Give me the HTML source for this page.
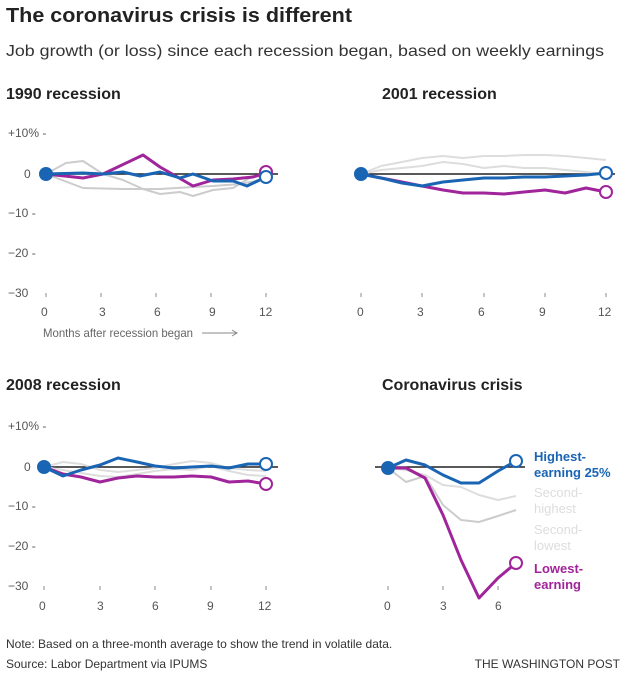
<!DOCTYPE html>
<html><head><meta charset="utf-8"><style>
body{margin:0;background:#fff;width:630px;height:676px;overflow:hidden;font-family:"Liberation Sans",sans-serif}
</style></head><body>
<svg width="630" height="676" xmlns="http://www.w3.org/2000/svg" font-family="Liberation Sans, sans-serif">
<text x="6" y="22" font-size="20" font-weight="bold" fill="#222" textLength="346" lengthAdjust="spacingAndGlyphs">The coronavirus crisis is different</text>
<text x="6" y="56" font-size="16" fill="#333" textLength="598" lengthAdjust="spacingAndGlyphs">Job growth (or loss) since each recession began, based on weekly earnings</text>
<g font-size="16" font-weight="bold" fill="#222">
<text x="6" y="99">1990 recession</text><text x="382" y="99">2001 recession</text>
<text x="6" y="390">2008 recession</text><text x="382" y="390">Coronavirus crisis</text></g>
<g font-size="12" fill="#555">
<text x="8" y="137">+10% -</text><text x="24" y="178">0</text><text x="8" y="217">−10 -</text><text x="8" y="257">−20 -</text><text x="8" y="297">−30</text>
<text x="41" y="316">0</text><text x="99" y="316">3</text><text x="154" y="316">6</text><text x="209" y="316">9</text><text x="259" y="316">12</text>
<text x="43" y="337" fill="#666" textLength="150" lengthAdjust="spacingAndGlyphs">Months after recession began</text>
<text x="357" y="316">0</text><text x="417" y="316">3</text><text x="478" y="316">6</text><text x="539" y="316">9</text><text x="598" y="316">12</text>
<text x="8" y="430">+10% -</text><text x="24" y="471">0</text><text x="8" y="510">−10 -</text><text x="8" y="550">−20 -</text><text x="8" y="590">−30</text>
<text x="39" y="610">0</text><text x="97" y="610">3</text><text x="152" y="610">6</text><text x="207" y="610">9</text><text x="258" y="610">12</text>
<text x="384" y="610">0</text><text x="440" y="610">3</text><text x="495" y="610">6</text>
</g>
<g stroke="#888" stroke-width="1">
<line x1="202" y1="333" x2="236" y2="333"/><path d="M232,330 L237,333 L232,336" fill="none"/>
<line x1="46" y1="293" x2="46" y2="297"/><line x1="101" y1="293" x2="101" y2="297"/><line x1="156" y1="293" x2="156" y2="297"/><line x1="211" y1="293" x2="211" y2="297"/><line x1="266" y1="293" x2="266" y2="297"/>
<line x1="361" y1="293" x2="361" y2="297"/><line x1="422" y1="293" x2="422" y2="297"/><line x1="484" y1="293" x2="484" y2="297"/><line x1="545" y1="293" x2="545" y2="297"/><line x1="606" y1="293" x2="606" y2="297"/>
<line x1="44" y1="586" x2="44" y2="590"/><line x1="100" y1="586" x2="100" y2="590"/><line x1="155" y1="586" x2="155" y2="590"/><line x1="211" y1="586" x2="211" y2="590"/><line x1="266" y1="586" x2="266" y2="590"/>
<line x1="388" y1="586" x2="388" y2="590"/><line x1="443" y1="586" x2="443" y2="590"/><line x1="498" y1="586" x2="498" y2="590"/>
</g>
<g stroke="#222" stroke-width="1.5">
<line x1="40" y1="174" x2="278" y2="174"/><line x1="355" y1="174" x2="615" y2="174"/>
<line x1="38" y1="467" x2="278" y2="467"/><line x1="375" y1="467" x2="525" y2="467"/>
</g>
<g fill="none" stroke-width="2" stroke-linejoin="round">
<polyline stroke="#ccc" points="46,174 66,163 83,161 103,174 123,180 143,189 160,194 180,192 193,196 213,190 233,188 253,176 266,177"/>
<polyline stroke="#ccc" points="46,174 83,188 123,189 160,189 193,187 213,186 240,184 266,179"/>
<polyline stroke="#a0249a" stroke-width="3" points="46,174 83,178 103,174 143,155 160,167 193,186 213,180 233,179 253,177 266,173"/>
<polyline stroke="#1a64b4" stroke-width="3" points="46,174 83,173 103,174 123,172 140,176 160,172 180,178 193,174 213,181 233,181 247,186 266,177"/>
<polyline stroke="#ddd" points="361,174 381,166 402,162 422,158 443,156 463,158 484,156 504,156 524,155 545,155 565,156 586,158 606,160"/>
<polyline stroke="#ddd" points="361,174 381,170 402,168 422,166 443,162 463,164 484,168 504,166 524,168 545,168 565,170 586,172 606,174"/>
<polyline stroke="#a0249a" stroke-width="3" points="361,174 381,178 402,182 422,186 443,190 463,193 484,193 504,194 524,192 545,190 565,193 586,188 606,192"/>
<polyline stroke="#1a64b4" stroke-width="3" points="361,174 381,178 402,183 422,186 443,182 463,180 484,178 504,178 524,177 545,177 565,176 586,175 606,173"/>
<polyline stroke="#ddd" points="44,467 63,462 81,464 100,470 118,472 137,470 155,468 174,464 192,461 211,463 229,468 248,470 266,471"/>
<polyline stroke="#ddd" points="44,467 63,470 81,473 100,476 118,477 137,474 155,471 174,469 192,470 211,466 229,471 248,475 266,476"/>
<polyline stroke="#a0249a" stroke-width="3" points="44,467 63,474 81,477 100,482 118,478 137,476 155,477 174,477 192,476 211,477 229,482 248,481 266,484"/>
<polyline stroke="#1a64b4" stroke-width="3" points="44,467 63,476 81,470 100,465 118,458 137,462 155,466 174,468 192,467 211,466 229,468 248,464 266,464"/>
<polyline stroke="#ccc" points="388,468 406,482 425,476 443,505 461,520 479,522 498,516 516,510"/>
<polyline stroke="#ddd" points="388,468 406,470 425,475 443,485 461,487 479,495 498,500 516,496"/>
<polyline stroke="#a0249a" stroke-width="3" points="388,468 406,468 425,478 443,515 461,560 479,598 498,578 516,563"/>
<polyline stroke="#1a64b4" stroke-width="3" points="388,468 406,460 425,465 443,475 461,483 479,483 498,471 516,461"/>
</g>
<g stroke-width="2">
<circle cx="46" cy="174" r="6" fill="#1a64b4" stroke="#1a64b4"/>
<circle cx="266" cy="172" r="6" fill="#fff" stroke="#a0249a"/><circle cx="266" cy="177" r="6" fill="#fff" stroke="#1a64b4"/>
<circle cx="361" cy="174" r="6" fill="#1a64b4" stroke="#1a64b4"/>
<circle cx="606" cy="192" r="6" fill="#fff" stroke="#a0249a"/><circle cx="606" cy="173" r="6" fill="#fff" stroke="#1a64b4"/>
<circle cx="44" cy="467" r="6" fill="#1a64b4" stroke="#1a64b4"/>
<circle cx="266" cy="484" r="6" fill="#fff" stroke="#a0249a"/><circle cx="266" cy="464" r="6" fill="#fff" stroke="#1a64b4"/>
<circle cx="388" cy="468" r="6" fill="#1a64b4" stroke="#1a64b4"/>
<circle cx="516" cy="563" r="6" fill="#fff" stroke="#a0249a"/><circle cx="516" cy="461" r="6" fill="#fff" stroke="#1a64b4"/>
</g>
<g font-size="13" font-weight="bold">
<text x="534" y="461" fill="#1a64b4">Highest-</text><text x="534" y="477" fill="#1a64b4">earning 25%</text>
<text x="534" y="573" fill="#a0249a">Lowest-</text><text x="534" y="589" fill="#a0249a">earning</text>
</g>
<g font-size="13" fill="#ddd">
<text x="534" y="497">Second-</text><text x="534" y="513">highest</text>
<text x="534" y="534">Second-</text><text x="534" y="550">lowest</text>
</g>
<text x="6" y="648" font-size="12" fill="#333">Note: Based on a three-month average to show the trend in volatile data.</text>
<text x="6" y="668" font-size="12" fill="#333">Source: Labor Department via IPUMS</text>
<text x="620" y="668" font-size="12" fill="#333" text-anchor="end">THE WASHINGTON POST</text>
</svg>
</body></html>
